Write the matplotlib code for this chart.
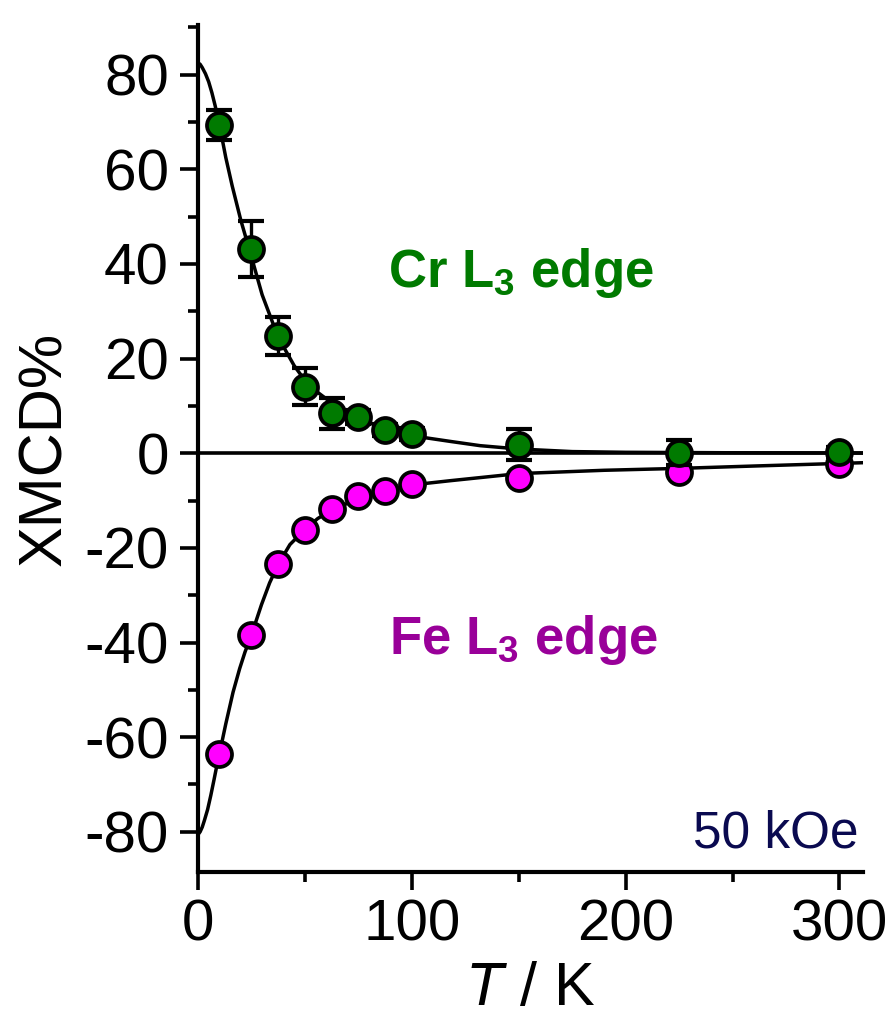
import matplotlib
matplotlib.use('Agg')
import matplotlib.pyplot as plt
from matplotlib.ticker import MultipleLocator

plt.rcParams['font.family'] = ['Liberation Sans', 'DejaVu Sans']
plt.rcParams['mathtext.fontset'] = 'custom'
plt.rcParams['mathtext.rm'] = 'Liberation Sans'
plt.rcParams['mathtext.it'] = 'Liberation Sans:italic'
plt.rcParams['mathtext.bf'] = 'Liberation Sans:bold'
plt.rcParams['axes.unicode_minus'] = False

# measured points
T = [10, 25, 37.5, 50, 62.5, 75, 87.5, 100, 150, 225, 300]
cr = [69.4, 43.1, 24.7, 14.1, 8.4, 7.7, 4.9, 4.1, 1.8, 0.1, 0.25]
cr_err = [3.2, 5.9, 4.0, 3.9, 3.2, 1.5, 1.2, 1.2, 3.3, 2.6, 1.0]
fe = [-63.6, -38.4, -23.4, -16.2, -11.8, -9.1, -7.9, -6.5, -5.3, -4.0, -2.2]

# fit curves
T_cr_fit = [0, 1, 2, 3.5, 5, 6.5, 8, 10, 13, 16, 20, 25, 30, 35, 40, 45, 50, 55,
            60, 70, 80, 90, 100, 118, 132, 150, 175, 200, 250, 311]
cr_fit = [82.5, 82.2, 81.5, 80.2, 78.5, 76.2, 73.5, 69.5, 62.5, 56.5, 49.3, 41.5,
          33.5, 27.5, 22.5, 18.5, 15.4, 13.2, 11.5, 8.6, 6.4, 4.9, 3.7, 2.5, 1.6,
          0.9, 0.35, 0.2, 0.1, 0.05]
T_fe_fit = [0, 1, 2, 3, 4.5, 6, 7.5, 9, 10, 11.5, 13, 16.4, 19.5, 22, 25, 29.7,
            33.5, 37.5, 43, 50, 56, 62.5, 75, 87.5, 100, 118, 150, 190, 225, 260, 311]
fe_fit = [-80.6, -80.0, -79.0, -77.6, -75.3, -72.3, -69.0, -65.6, -63.6, -60.4,
          -57.2, -50.5, -45.5, -42.0, -38.4, -32.0, -27.4, -23.5, -19.3, -16.1,
          -13.8, -12.0, -9.6, -7.9, -6.7, -5.8, -4.3, -3.6, -3.2, -2.7, -2.0]

fig = plt.figure(figsize=(8.93, 10.16), dpi=100)
ax = fig.add_axes([0.2217, 0.1417, 0.7447, 0.8337])

ax.axhline(0, color='black', lw=2.6, zorder=1)
ax.plot(T_cr_fit, cr_fit, color='black', lw=2.5, zorder=2)
ax.plot(T_fe_fit, fe_fit, color='black', lw=2.5, zorder=2)

ax.plot(T, fe, 'o', ms=18, mfc='#ff00ff', mec='black', mew=2.7, zorder=4)
ax.errorbar(T, cr, yerr=cr_err, fmt='none', ecolor='black', elinewidth=2.4,
            capsize=9.7, capthick=3, zorder=5)
ax.plot(T, cr, 'o', ms=18, mfc='#007a00', mec='black', mew=2.7, zorder=6)

ax.set_xlim(0, 311)
ax.set_ylim(-88.5, 90.5)
ax.xaxis.set_major_locator(MultipleLocator(100))
ax.xaxis.set_minor_locator(MultipleLocator(50))
ax.yaxis.set_major_locator(MultipleLocator(20))
ax.yaxis.set_minor_locator(MultipleLocator(10))

for s in ['top', 'right']:
    ax.spines[s].set_visible(False)
for s in ['left', 'bottom']:
    ax.spines[s].set_linewidth(3)

ax.tick_params(which='major', length=13, width=2.6, labelsize=42, pad=6)
ax.tick_params(which='minor', length=7, width=2.6)
ax.tick_params(axis='y', which='major', pad=8)

ax.set_xlabel(r'$\mathit{T}$ / K', fontsize=44, labelpad=6)
ax.set_ylabel('XMCD%', fontsize=44, labelpad=7)

ax.text(151, 38, r'Cr L$_\mathbf{3}$ edge', fontsize=38, fontweight='bold',
        color='#007a00', ha='center', va='center')
ax.text(152, -39.5, r'Fe L$_\mathbf{3}$ edge', fontsize=38, fontweight='bold',
        color='#990099', ha='center', va='center')
ax.text(309, -80.5, '50 kOe', fontsize=37, color='#0a0a50', ha='right', va='center')

fig.savefig('out.png', dpi=100)
